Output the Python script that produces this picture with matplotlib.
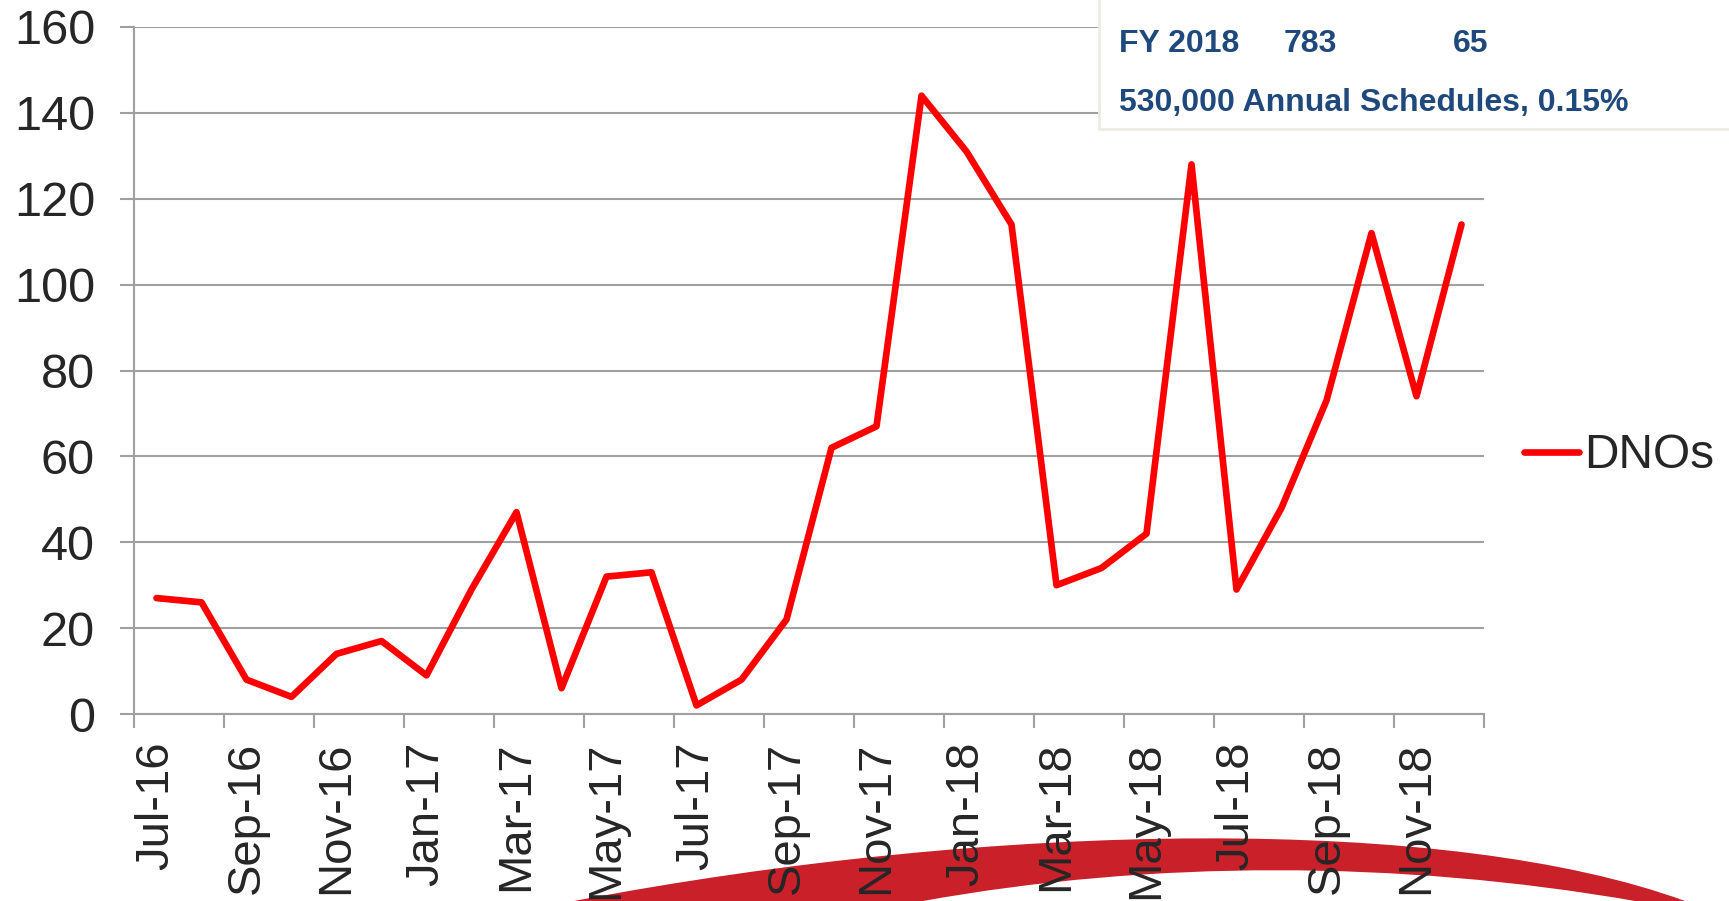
import numpy as np
import matplotlib.pyplot as plt
from matplotlib.path import Path
from matplotlib.patches import PathPatch, Rectangle

plt.rcParams['font.family'] = ['Liberation Sans', 'DejaVu Sans']

months = ['Jul-16', 'Aug-16', 'Sep-16', 'Oct-16', 'Nov-16', 'Dec-16',
          'Jan-17', 'Feb-17', 'Mar-17', 'Apr-17', 'May-17', 'Jun-17',
          'Jul-17', 'Aug-17', 'Sep-17', 'Oct-17', 'Nov-17', 'Dec-17',
          'Jan-18', 'Feb-18', 'Mar-18', 'Apr-18', 'May-18', 'Jun-18',
          'Jul-18', 'Aug-18', 'Sep-18', 'Oct-18', 'Nov-18', 'Dec-18']
dnos = [27, 26, 8, 4, 14, 17, 9, 29, 47, 6, 32, 33, 2, 8, 22, 62, 67, 144,
        131, 114, 30, 34, 42, 128, 29, 48, 73, 112, 74, 114]
box_row1 = ['FY 2018', '783', '65']
box_row2 = '530,000 Annual Schedules, 0.15%'

W, H = 1729, 901
fig = plt.figure(figsize=(W / 100, H / 100), dpi=100)
fig.patch.set_facecolor('white')
ax = fig.add_axes([134 / W, 1 - 714 / H, (1484 - 134) / W, (714 - 27) / H])

x = np.arange(len(months))
ax.plot(x, dnos, color='#ff0000', lw=4.8, solid_joinstyle='round',
        solid_capstyle='round', label='DNOs', zorder=3)

grey = '#a0a0a0'
ax.set_ylim(0, 160)
ax.set_yticks(np.arange(0, 161, 20))
ax.set_xlim(-0.5, len(months) - 0.5)
ax.set_xticks(np.arange(-0.5, len(months), 2))
ax.set_xticklabels([])
ax.set_xticks(x[::2], minor=True)
ax.set_xticklabels(months[::2], minor=True, rotation=90, fontsize=34, color='#262626')
ax.tick_params(axis='x', which='major', length=10, width=1.5, color=grey, direction='out')
ax.tick_params(axis='x', which='minor', length=0, pad=20)
ax.tick_params(axis='y', length=10, width=1.5, color=grey, pad=18, labelsize=35,
               labelcolor='#262626')
ax.yaxis.grid(True, color=grey, lw=1.5)
ax.set_axisbelow(True)
for s in ['top', 'right']:
    ax.spines[s].set_visible(False)
for s in ['left', 'bottom']:
    ax.spines[s].set_color(grey)
    ax.spines[s].set_linewidth(1.5)

fig.legend(loc='center left', bbox_to_anchor=(1524 / W, 1 - 456 / H), frameon=False,
           fontsize=34.5, handlelength=1.15, handletextpad=0.1, borderpad=0,
           borderaxespad=0, labelcolor='#262626')

# info box in the top right
fig.add_artist(Rectangle((1099 / W, 1 - 129 / H), 700 / W, 200 / H,
                         transform=fig.transFigure, facecolor='white',
                         edgecolor='#eeece1', lw=2, zorder=5))
blue = '#1f497d'
for txt, px in zip(box_row1, [1119, 1284, 1453]):
    fig.text(px / W, 1 - 44 / H, txt, fontsize=23, fontweight='bold', color=blue,
             va='center', zorder=6)
fig.text(1119 / W, 1 - 103 / H, box_row2, fontsize=23, fontweight='bold', color=blue,
         va='center', zorder=6)

# decorative swoosh at the bottom
def pt(px, py):
    return (px / W, 1 - py / H)

verts = [pt(574, 901), pt(1000, 820), pt(1450, 815), pt(1685, 901),
         pt(1685, 960), pt(1635, 960), pt(1635, 901),
         pt(1400, 860), pt(1150, 860), pt(923, 901),
         pt(923, 960), pt(574, 960), pt(574, 901)]
codes = [Path.MOVETO, Path.CURVE4, Path.CURVE4, Path.CURVE4,
         Path.LINETO, Path.LINETO, Path.LINETO,
         Path.CURVE4, Path.CURVE4, Path.CURVE4,
         Path.LINETO, Path.LINETO, Path.CLOSEPOLY]
fig.add_artist(PathPatch(Path(verts, codes), transform=fig.transFigure,
                         facecolor='#c9202a', edgecolor='none', zorder=-1))

fig.savefig('out.png', dpi=100)
